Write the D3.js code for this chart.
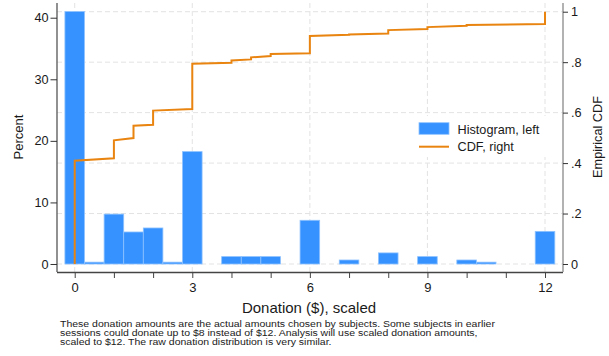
<!DOCTYPE html>
<html>
<head>
<meta charset="utf-8">
<script src="https://cdn.jsdelivr.net/npm/d3@7"></script>
<style>
  body { margin: 0; background: #fff; }
  svg { display: block; font-family: "Liberation Sans", Arial, sans-serif; }
  .axis text { fill: #1a1a1a; font-size: 12.7px; }
  .grid line { stroke: #e3e3e3; stroke-dasharray: 5,3; }
</style>
</head>
<body>
<div class="chart"></div>
<script>
const width  = 609;
const height = 356;
const plot = { left: 57, right: 563, top: 3, bottom: 272 };

// histogram: bin centres (width 0.5) and percent of subjects
const binCenters = [ 0, 0.5, 1, 1.5, 2, 2.5, 3, 4, 4.5, 5, 6, 7, 8, 9, 10, 10.5, 12 ];
const binPercent = [ 41.0, 0.3, 8.1, 5.2, 5.85, 0.3, 18.25, 1.2, 1.2, 1.2, 7.1, 0.65, 1.8, 1.2, 0.65, 0.3, 5.3 ];

// empirical CDF: jump positions, value just before and just after each jump
const cdfX      = [ 0, 1, 1.5, 2, 3, 4, 4.5, 5, 6, 7, 8, 9, 10, 12 ];
const cdfBefore = [ 0, 0.419, 0.499, 0.552, 0.614, 0.798, 0.811, 0.824, 0.835, 0.909, 0.914, 0.931, 0.944, 0.951 ];
const cdfAfter  = [ 0.409, 0.49, 0.548, 0.608, 0.794, 0.807, 0.819, 0.832, 0.904, 0.91, 0.927, 0.939, 0.947, 1 ];

const xTicks      = [ 0, 1, 2, 3, 4, 5, 6, 7, 8, 9, 10, 11, 12 ];
const xLabels     = [ 0, 3, 6, 9, 12 ];
const leftTicks   = [ 0, 10, 20, 30, 40 ];
const rightTicks  = [ 0, 0.2, 0.4, 0.6, 0.8, 1 ];

const caption = [
  "These donation amounts are the actual amounts chosen by subjects. Some subjects in earlier",
  "sessions could donate up to $8 instead of $12. Analysis will use scaled donation amounts,",
  "scaled to $12. The raw donation distribution is very similar."
];

const blue = "#3592ff";
const orange = "#e8840f";

const svg = d3.select( ".chart" )
  .append( "svg" )
    .attr( "width", width )
    .attr( "height", height );

const xScale = d3.scaleLinear()
  .domain( [ -0.452, 12.459 ] )
  .range( [ plot.left, plot.right ] );

const yLeft = d3.scaleLinear()
  .domain( [ -1.3, 42.39 ] )
  .range( [ plot.bottom, plot.top ] );

const yRight = d3.scaleLinear()
  .domain( [ -0.0317, 1.0345 ] )
  .range( [ plot.bottom, plot.top ] );

// grid
const grid = svg.append( "g" ).attr( "class", "grid" );
grid.selectAll( "line.h" )
  .data( rightTicks )
  .enter().append( "line" )
    .attr( "x1", plot.left ).attr( "x2", plot.right )
    .attr( "y1", d => yRight( d ) ).attr( "y2", d => yRight( d ) );
grid.selectAll( "line.v" )
  .data( xLabels )
  .enter().append( "line" )
    .attr( "x1", d => xScale( d ) ).attr( "x2", d => xScale( d ) )
    .attr( "y1", plot.top ).attr( "y2", plot.bottom );

// bars
svg.append( "g" )
  .selectAll( "rect" )
  .data( binCenters )
  .enter().append( "rect" )
    .attr( "x", d => xScale( d - 0.25 ) )
    .attr( "width", xScale( 0.5 ) - xScale( 0 ) )
    .attr( "y", ( d, i ) => yLeft( binPercent[ i ] ) )
    .attr( "height", ( d, i ) => yLeft( 0 ) - yLeft( binPercent[ i ] ) )
    .attr( "fill", blue )
    .attr( "stroke", "#8ec2ff" )
    .attr( "stroke-width", 0.8 );

// cdf
const cdfPoints = [];
cdfX.forEach( ( x, i ) => {
  cdfPoints.push( [ x, cdfBefore[ i ] ] );
  cdfPoints.push( [ x, cdfAfter[ i ] ] );
});

svg.append( "path" )
  .datum( cdfPoints )
  .attr( "fill", "none" )
  .attr( "stroke", orange )
  .attr( "stroke-width", 2 )
  .attr( "stroke-linejoin", "miter" )
  .attr( "d", d3.line().x( d => xScale( d[ 0 ] ) ).y( d => yRight( d[ 1 ] ) ) );

// axes
const xAxis = svg.append( "g" )
  .attr( "class", "x axis" )
  .attr( "transform", `translate( 0, ${ plot.bottom } )` )
  .call( d3.axisBottom( xScale ).tickValues( xTicks ).tickSize( 6 ).tickPadding( 4.5 )
    .tickFormat( d => xLabels.includes( d ) ? d : "" ) );
xAxis.select( ".domain" ).attr( "d", `M${ plot.left },0.5H${ plot.right }` ).attr( "stroke", "#444" ).attr( "stroke-width", 1.3 );
xAxis.selectAll( ".tick line" ).attr( "stroke", "#444" );
xAxis.selectAll( "text" ).style( "font-size", "13px" );

const lAxis = svg.append( "g" )
  .attr( "class", "y axis" )
  .attr( "transform", `translate( ${ plot.left }, 0 )` )
  .call( d3.axisLeft( yLeft ).tickValues( leftTicks ).tickSize( 6.5 ).tickPadding( 2 ) );
lAxis.select( ".domain" ).attr( "d", `M0,${ plot.top }V${ plot.bottom }` ).attr( "stroke", "#555" ).attr( "stroke-width", 1.3 );
lAxis.selectAll( ".tick line" ).attr( "stroke", "#333" );

const rAxis = svg.append( "g" )
  .attr( "class", "y2 axis" )
  .attr( "transform", `translate( ${ plot.right }, 0 )` )
  .call( d3.axisRight( yRight ).tickValues( rightTicks ).tickSize( 5 ).tickPadding( 3 )
    .tickFormat( d => d === 0 || d === 1 ? d : d3.format( ".1f" )( d ).replace( /^0/, "" ) ) );
rAxis.select( ".domain" ).attr( "d", `M0,${ plot.top }V${ plot.bottom }` ).attr( "stroke", "#999" ).attr( "stroke-width", 1.5 );
rAxis.selectAll( ".tick line" ).attr( "stroke", "#333" );

// axis titles
svg.append( "text" )
  .attr( "transform", "translate( 23, 137 ) rotate( -90 )" )
  .attr( "text-anchor", "middle" )
  .style( "font-size", "13px" )
  .attr( "fill", "#1a1a1a" )
  .text( "Percent" );

svg.append( "text" )
  .attr( "transform", "translate( 602, 137 ) rotate( -90 )" )
  .attr( "text-anchor", "middle" )
  .style( "font-size", "12.7px" )
  .attr( "fill", "#1a1a1a" )
  .text( "Empirical CDF" );

svg.append( "text" )
  .attr( "x", 309 )
  .attr( "y", 313.3 )
  .attr( "text-anchor", "middle" )
  .style( "font-size", "15px" )
  .attr( "fill", "#1a1a1a" )
  .text( "Donation ($), scaled" );

// legend
const legend = svg.append( "g" ).attr( "transform", "translate( 413, 116 )" );
legend.append( "rect" )
  .attr( "width", 138 ).attr( "height", 41 ).attr( "fill", "#fff" );
legend.append( "rect" )
  .attr( "x", 6 ).attr( "y", 6.7 ).attr( "width", 30 ).attr( "height", 11.6 )
  .attr( "fill", blue ).attr( "stroke", "#8ec2ff" ).attr( "stroke-width", 0.8 );
legend.append( "line" )
  .attr( "x1", 6 ).attr( "x2", 36 ).attr( "y1", 30.7 ).attr( "y2", 30.7 )
  .attr( "stroke", orange ).attr( "stroke-width", 2 );
legend.selectAll( "text" )
  .data( [ "Histogram, left", "CDF, right" ] )
  .enter().append( "text" )
    .attr( "x", 44.5 )
    .attr( "y", ( d, i ) => 18 + i * 16.7 )
    .style( "font-size", "12.7px" )
    .attr( "fill", "#1a1a1a" )
    .text( d => d );

// note: wide but short glyphs, tight line spacing as in the original
svg.append( "g" )
  .attr( "transform", "translate( 60, 327 ) scale( 1, 0.86 )" )
  .selectAll( "text" )
  .data( caption )
  .enter().append( "text" )
    .attr( "x", 0 )
    .attr( "y", ( d, i ) => i * 10.2 )
    .style( "font-size", "10.5px" )
    .attr( "fill", "#1a1a1a" )
    .text( d => d );
</script>
</body>
</html>
